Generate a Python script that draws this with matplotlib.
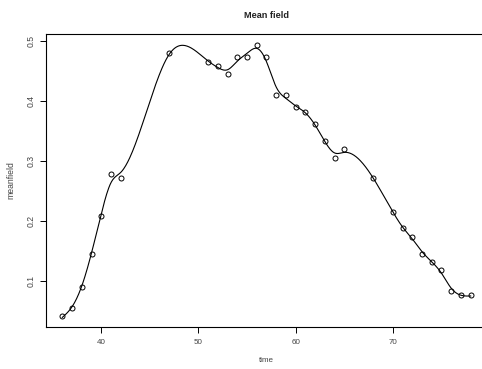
import numpy as np
import matplotlib
matplotlib.use("Agg")
import matplotlib.pyplot as plt

plt.rcParams['font.family'] = ['Liberation Sans', 'DejaVu Sans']

time = [36, 37, 38, 39, 40, 41, 42, 47, 51, 52, 53, 54, 55, 56, 57, 58, 59,
        60, 61, 62, 63, 64, 65, 68, 70, 71, 72, 73, 74, 75, 76, 77, 78]
counts = [6, 8, 13, 21, 30, 40, 39, 69, 67, 66, 64, 68, 68, 71, 68, 59, 59,
          56, 55, 52, 48, 44, 46, 39, 31, 27, 25, 21, 19, 17, 12, 11, 11]
meanfield = [c / 144 for c in counts]

x_ticks = [40, 50, 60, 70]
y_ticks = [0.1, 0.2, 0.3, 0.4, 0.5]


def smoothing_spline(x, y, lam):
    """Natural cubic smoothing spline (Reinsch form)."""
    x = np.asarray(x, float)
    y = np.asarray(y, float)
    n = len(x)
    h = np.diff(x)
    Q = np.zeros((n, n - 2))
    R = np.zeros((n - 2, n - 2))
    for j in range(1, n - 1):
        Q[j - 1, j - 1] = 1 / h[j - 1]
        Q[j, j - 1] = -1 / h[j - 1] - 1 / h[j]
        Q[j + 1, j - 1] = 1 / h[j]
        R[j - 1, j - 1] = (h[j - 1] + h[j]) / 3
        if j < n - 2:
            R[j - 1, j] = R[j, j - 1] = h[j] / 6
    K = Q @ np.linalg.solve(R, Q.T)
    S = np.linalg.inv(np.eye(n) + lam * K)
    g = S @ y
    gam = np.zeros(n)
    gam[1:-1] = np.linalg.solve(R, Q.T @ g)
    return g, gam, S


def gcv_lambda(x, y):
    best = None
    for lam in np.logspace(-3, 2, 200):
        g, _, S = smoothing_spline(x, y, lam)
        n = len(y)
        score = n * np.sum((np.asarray(y) - g) ** 2) / (n - np.trace(S)) ** 2
        if best is None or score < best[0]:
            best = (score, lam)
    return best[1]


def eval_spline(x, g, gam, xs):
    x = np.asarray(x, float)
    out = np.empty_like(xs)
    for k, xv in enumerate(xs):
        i = min(max(np.searchsorted(x, xv) - 1, 0), len(x) - 2)
        h = x[i + 1] - x[i]
        a = xv - x[i]
        b = x[i + 1] - xv
        out[k] = (a * g[i + 1] + b * g[i]) / h - a * b / 6 * (
            (1 + a / h) * gam[i + 1] + (1 + b / h) * gam[i])
    return out


lam = gcv_lambda(time, meanfield)
g, gam, _ = smoothing_spline(time, meanfield, lam)
xs = np.linspace(min(time), max(time), 600)
ys = eval_spline(time, g, gam, xs)

W, H = 482, 369
fig = plt.figure(figsize=(W / 100, H / 100), dpi=100)
ax = fig.add_axes([46 / W, 1 - 327 / H, (487 - 46) / W, (327 - 34) / H])

ax.plot(time, meanfield, 'o', mfc='none', mec='black', ms=3.6, mew=0.7)
ax.plot(xs, ys, color='black', lw=0.8)

xr = max(time) - min(time)
yr = max(meanfield) - min(meanfield)
ax.set_xlim(min(time) - 0.04 * xr, max(time) + 0.04 * xr)
ax.set_ylim(min(meanfield) - 0.04 * yr, max(meanfield) + 0.04 * yr)

ax.set_xticks(x_ticks)
ax.set_yticks(y_ticks)
ax.set_xticklabels([str(t) for t in x_ticks])
ax.set_yticklabels([f"{t:.1f}" for t in y_ticks], rotation=90, va='center')
ax.tick_params(direction='out', length=4.3, width=0.7, pad=4,
               colors='black', labelcolor='#444444')
ax.tick_params(axis='x', labelsize=5.8)
ax.tick_params(axis='y', labelsize=6.2, pad=3.5)
for s in ax.spines.values():
    s.set_linewidth(0.8)

ax.set_xlabel('time', fontsize=5.8, color='#444444', labelpad=8)
ax.set_ylabel('meanfield', fontsize=6.2, color='#444444', labelpad=8)
fig.text(266.5 / W, 1 - 15 / H, 'Mean field', ha='center', va='center',
         fontsize=6.6, fontweight='bold', color='#222222')

fig.savefig('out.png', dpi=100)
